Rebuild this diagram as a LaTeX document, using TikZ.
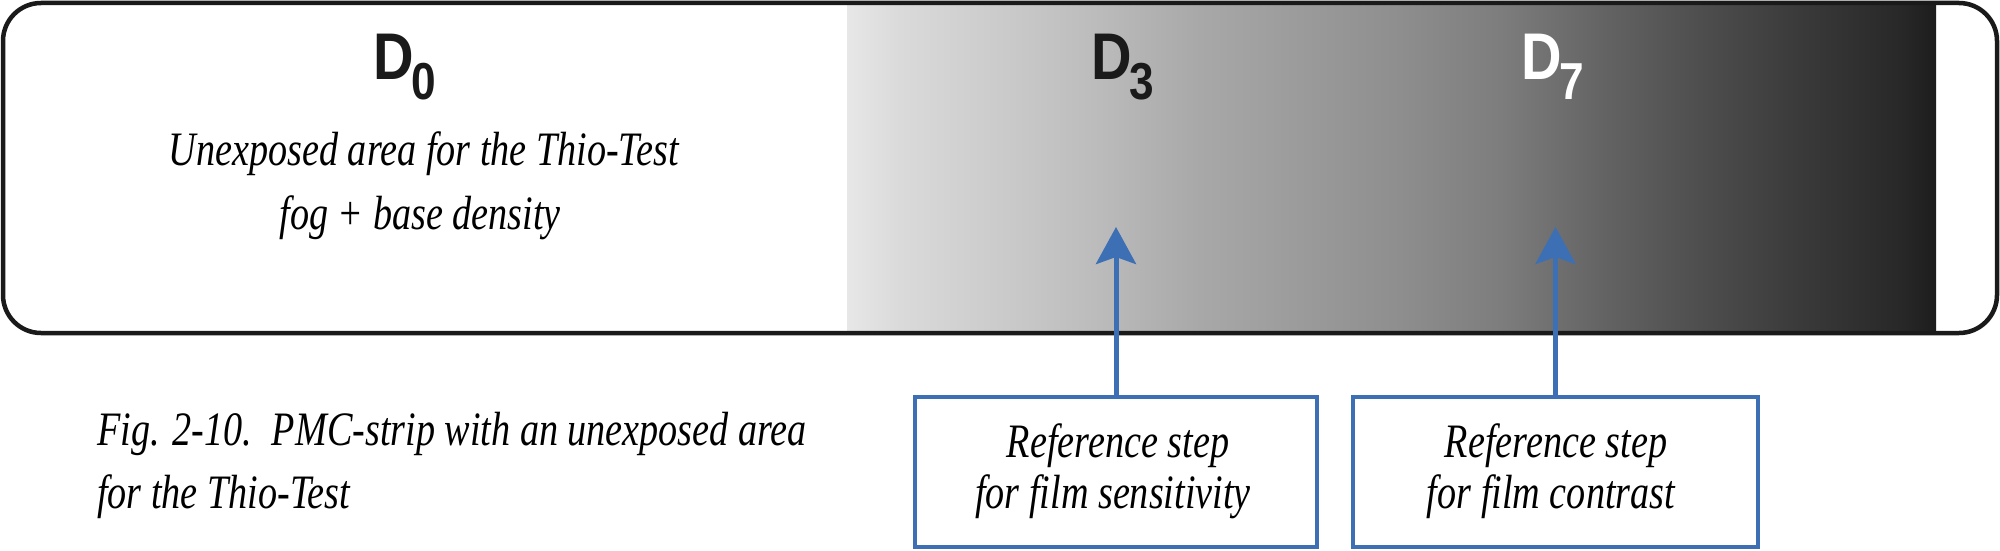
\documentclass[tikz,border=0pt]{standalone}
\usepackage{fontspec}
\usetikzlibrary{arrows.meta}
\newfontfamily\serifit{Liberation Serif}[FakeStretch=0.795]
\newfontfamily\dfam{Liberation Sans}[FakeStretch=0.85]
\definecolor{refblue}{RGB}{61,111,181}
\definecolor{framek}{RGB}{26,26,26}
\definecolor{s0}{RGB}{231,231,231}
\definecolor{s1}{RGB}{218,218,218}
\definecolor{s2}{RGB}{203,203,203}
\definecolor{s3}{RGB}{187,187,187}
\definecolor{s4}{RGB}{168,168,168}
\definecolor{s5}{RGB}{155,155,155}
\definecolor{s6}{RGB}{142,142,142}
\definecolor{s7}{RGB}{125,125,125}
\definecolor{s8}{RGB}{100,100,100}
\definecolor{s9}{RGB}{78,78,78}
\definecolor{s10}{RGB}{58,58,58}
\definecolor{s11}{RGB}{40,40,40}
\definecolor{s12}{RGB}{29,29,29}
\pgfdeclarehorizontalshading{stripshade}{100bp}{color(0bp)=(s0); color(25bp)=(s0); color(27.43bp)=(s1); color(32.02bp)=(s2); color(36.62bp)=(s3); color(41.21bp)=(s4); color(45.80bp)=(s5); color(50.39bp)=(s6); color(54.98bp)=(s7); color(59.57bp)=(s8); color(64.16bp)=(s9); color(68.76bp)=(s10); color(73.35bp)=(s11); color(75bp)=(s12); color(100bp)=(s12)}
\newcommand{\dlabel}[1]{{\dfam\bfseries\fontsize{66}{66}\selectfont D}\kern-2pt\raisebox{-20pt}{\dfam\bfseries\fontsize{52}{52}\selectfont #1}}
\tikzset{
  itext/.style={inner sep=0pt, font=\serifit\itshape\fontsize{48}{56}\selectfont, text=black},
  dtext/.style={inner sep=0pt, anchor=base west},
  refbox/.style={draw=refblue, line width=4pt, fill=white, inner sep=0pt},
  refarrow/.style={draw=refblue, line width=5pt, -{Stealth[length=37pt,width=40pt,inset=7pt]}},
  stripframe/.style={draw=framek, line width=4.5pt, rounded corners=38pt, inner sep=0pt}
}
\begin{document}
\begin{tikzpicture}[x=1pt,y=-1pt]
\useasboundingbox (0,0) rectangle (2000,551);
\fill[white] (0,0) rectangle (2000,551);
% gradient strip
\fill[shading=stripshade] (847,4) rectangle (1936,332);
% frame
\node[stripframe, minimum width=1994pt, minimum height=330pt] (strip) at (1000,168) {};
% density labels
\node[dtext, text=framek] (d0) at (373,80) {\dlabel{0}};
\node[dtext, text=framek] (d3) at (1091,80) {\dlabel{3}};
\node[dtext, text=white] (d7) at (1521,80) {\dlabel{7}};
% unexposed text
\node[itext, anchor=base] (u1) at (424,165) {Unexposed area for the Thio-Test};
\node[itext, anchor=base] (u2) at (420,229) {fog + base density};
% reference boxes
\node[refbox, minimum width=402pt, minimum height=150pt] (box1) at (1116,472) {};
\node[refbox, minimum width=405pt, minimum height=150pt] (box2) at (1555.5,472) {};
\node[itext, anchor=base] (b1a) at (1118,457) {Reference step};
\node[itext, anchor=base] (b1b) at (1113,508) {for film sensitivity};
\node[itext, anchor=base] (b2a) at (1556,457) {Reference step};
\node[itext, anchor=base] (b2b) at (1551,508) {for film contrast};
% arrows
\coordinate (tip1) at (1116,227);
\coordinate (tip2) at (1555.5,227);
\draw[refarrow] (box1.north) -- (tip1);
\draw[refarrow] (box2.north) -- (tip2);
% caption
\node[itext, anchor=base west] (cap1) at (97,445) {Fig. 2-10.\hspace{20pt}PMC-strip with an unexposed area};
\node[itext, anchor=base west] (cap2) at (97,508) {for the Thio-Test};
\end{tikzpicture}
\end{document}
